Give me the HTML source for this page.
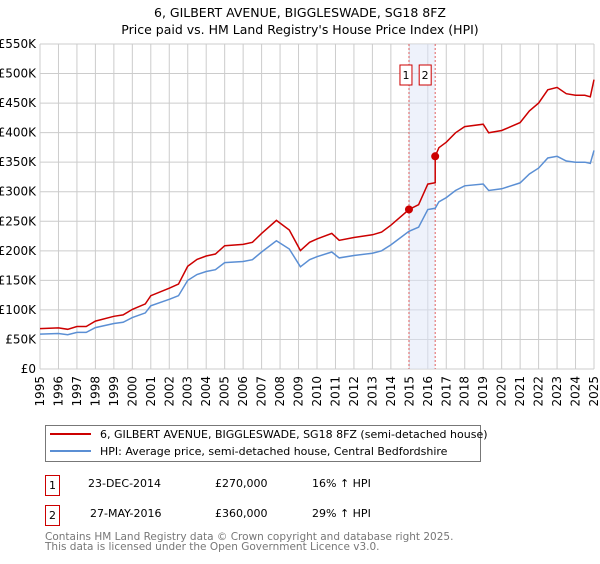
<!DOCTYPE html>
<html><head><meta charset="utf-8"><style>
body{margin:0;background:#fff;font-family:"DejaVu Sans","Liberation Sans",sans-serif}
svg text{font-family:"DejaVu Sans","Liberation Sans",sans-serif}
</style></head><body>
<svg id="c" width="600" height="560" xmlns="http://www.w3.org/2000/svg">
<text x="300" y="17" font-size="12.5" text-anchor="middle">6, GILBERT AVENUE, BIGGLESWADE, SG18 8FZ</text>
<text x="300" y="34" font-size="12.5" text-anchor="middle">Price paid vs. HM Land Registry's House Price Index (HPI)</text>
<g id="grid"></g>
<g id="marks"></g>
<g>
<rect x="45.5" y="425.5" width="435" height="36" fill="#fff" stroke="#777"/>
<line x1="50" y1="434" x2="91" y2="434" stroke="#cc0000" stroke-width="2"/>
<text x="100" y="438" font-size="11">6, GILBERT AVENUE, BIGGLESWADE, SG18 8FZ (semi-detached house)</text>
<line x1="50" y1="451" x2="91" y2="451" stroke="#5b8fd4" stroke-width="2"/>
<text x="100" y="455" font-size="11">HPI: Average price, semi-detached house, Central Bedfordshire</text>
</g>
<g font-size="11">
<rect x="45.5" y="475.5" width="14" height="20" fill="none" stroke="#cc0000"/>
<text x="52.5" y="489" text-anchor="middle">1</text>
<text x="88" y="487">23-DEC-2014</text>
<text x="215" y="487">£270,000</text>
<text x="312" y="487">16% ↑ HPI</text>
<rect x="45.5" y="505.5" width="14" height="20" fill="none" stroke="#cc0000"/>
<text x="52.5" y="519" text-anchor="middle">2</text>
<text x="90" y="517">27-MAY-2016</text>
<text x="215" y="517">£360,000</text>
<text x="312" y="517">29% ↑ HPI</text>
</g>
<text x="45" y="540" font-size="10.5" fill="#777">Contains HM Land Registry data © Crown copyright and database right 2025.</text>
<text x="45" y="550" font-size="10.5" fill="#777">This data is licensed under the Open Government Licence v3.0.</text>
</svg>
<script>
const hpiYears=[1995,1996,1996.5,1997,1997.5,1998,1999,1999.5,2000,2000.7,2001,2002,2002.5,2003,2003.5,2004,2004.5,2005,2006,2006.5,2007,2007.8,2008.5,2009.1,2009.6,2010,2010.8,2011.2,2012,2013,2013.5,2014,2014.98,2015.5,2016,2016.4,2016.6,2017,2017.5,2018,2019,2019.3,2020,2020.5,2021,2021.5,2022,2022.5,2023,2023.5,2024,2024.5,2024.8,2025];
const hpiValues=[59,60,58,62,62,70,77,79,87,95,107,118,124,150,160,165,168,180,182,185,198,217,203,173,185,190,198,188,192,196,200,210,233,240,270,272,283,290,302,310,313,302,305,310,315,330,340,357,360,352,350,350,348,370];
const saleYears=[2014.98,2016.4];
const salePrices=[270,360];
const yTicks=[0,50,100,150,200,250,300,350,400,450,500,550];
const xTicks=[1995,1996,1997,1998,1999,2000,2001,2002,2003,2004,2005,2006,2007,2008,2009,2010,2011,2012,2013,2014,2015,2016,2017,2018,2019,2020,2021,2022,2023,2024,2025];
const X0=40,X1=594,Y0=369,Y1=44;
const sx=y=>X0+(y-1995)/30*(X1-X0);
const sy=v=>Y0-v/550*(Y0-Y1);
const NS="http://www.w3.org/2000/svg";
function mk(t,a,p){const e=document.createElementNS(NS,t);for(const k in a)e.setAttribute(k,a[k]);p.appendChild(e);return e;}
const grid=document.getElementById('grid'),marks=document.getElementById('marks');
function hpiAt(y){for(let i=1;i<hpiYears.length;i++){if(y<=hpiYears[i]){const t=(y-hpiYears[i-1])/(hpiYears[i]-hpiYears[i-1]);return hpiValues[i-1]+t*(hpiValues[i]-hpiValues[i-1]);}}return hpiValues[hpiValues.length-1];}
mk('rect',{x:X0,y:Y1,width:X1-X0,height:Y0-Y1,fill:'#fff'},grid);
yTicks.forEach(v=>{const l=mk('line',{x1:X0,x2:X1,y1:sy(v),y2:sy(v),stroke:'#ccc'},grid);


const t=mk('text',{x:36,y:sy(v)+4,'font-size':12,'text-anchor':'end'},grid);t.textContent='£'+(v? v+'K':'0');

});
xTicks.forEach(y=>{const l=mk('line',{x1:sx(y),x2:sx(y),y1:Y1,y2:Y0,stroke:'#ccc'},grid);


const tx=sx(y)+4,ty=376;
const t=mk('text',{x:tx,y:ty,'font-size':12,'text-anchor':'end',transform:'rotate(-90 '+tx+' '+ty+')'},grid);t.textContent=y;

});
const band=mk('rect',{x:sx(saleYears[0]),y:Y1,width:sx(saleYears[1])-sx(saleYears[0]),height:Y0-Y1,fill:'#dde6f8',opacity:0.5},marks);


saleYears.forEach((y,i)=>{const l=mk('line',{x1:sx(y),x2:sx(y),y1:Y1,y2:Y0,stroke:'#e06060','stroke-dasharray':'2,2'},marks);


const r=mk('rect',{x:sx(y)-(i?10:3)-6,y:65,width:12,height:20,fill:'#fff',stroke:'#cc0000'},marks);


const t=mk('text',{x:sx(y)-(i?10:3),y:79,'font-size':11,'text-anchor':'middle'},marks);t.textContent=i+1;});
let hp='';hpiYears.forEach((y,i)=>{hp+=(i?'L':'M')+sx(y).toFixed(1)+','+sy(hpiValues[i]).toFixed(1);});
const hl=mk('path',{d:hp,fill:'none',stroke:'#5b8fd4','stroke-width':1.5},marks);


const f1=salePrices[0]/hpiAt(saleYears[0]),f2=salePrices[1]/hpiAt(saleYears[1]);
let pts=[];hpiYears.forEach((y,i)=>{if(y<saleYears[1]){pts.push([y,hpiValues[i]*f1]);}});
pts.push([saleYears[1],hpiAt(saleYears[1])*f1]);pts.push([saleYears[1],salePrices[1]]);
hpiYears.forEach((y,i)=>{if(y>saleYears[1])pts.push([y,hpiValues[i]*f2]);});
const rp=pts.map((p,i)=>(i?'L':'M')+sx(p[0]).toFixed(1)+','+sy(p[1]).toFixed(1)).join('');
const rl=mk('path',{d:rp,fill:'none',stroke:'#cc0000','stroke-width':1.5},marks);


saleYears.forEach((y,i)=>{const c=mk('circle',{cx:sx(y),cy:sy(salePrices[i]),r:4,fill:'#cc0000'},marks);

});
</script>
</body></html>
